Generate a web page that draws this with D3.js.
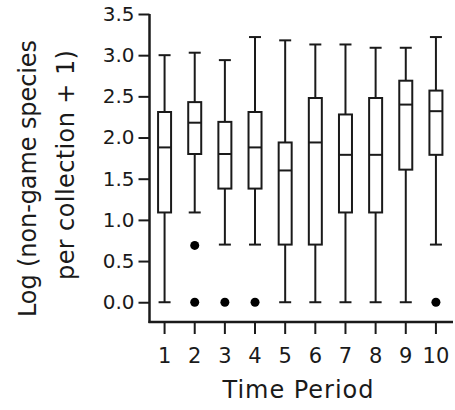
<!DOCTYPE html>
<html>
<head>
<meta charset="utf-8">
<script src="https://cdn.jsdelivr.net/npm/d3@7"></script>
<style>
  html, body { margin: 0; padding: 0; background: #fff; }
  svg { display: block; }
  text { font-family: "DejaVu Sans", Verdana, sans-serif; fill: #1a1a1a; }
</style>
</head>
<body>
<svg id="chart" width="455" height="410"></svg>
<script>
// ---- data ----
const periods     = ["1","2","3","4","5","6","7","8","9","10"];
const whiskerHigh = [3.00, 3.03, 2.94, 3.22, 3.18, 3.13, 3.13, 3.09, 3.09, 3.22];
const q3          = [2.31, 2.43, 2.19, 2.31, 1.94, 2.48, 2.28, 2.48, 2.69, 2.57];
const medians     = [1.88, 2.18, 1.80, 1.88, 1.60, 1.94, 1.79, 1.79, 2.40, 2.32];
const q1          = [1.09, 1.80, 1.38, 1.38, 0.70, 0.70, 1.09, 1.09, 1.61, 1.79];
const whiskerLow  = [0.00, 1.09, 0.70, 0.70, 0.00, 0.00, 0.00, 0.00, 0.00, 0.70];
const outlierPeriods = ["2", "2", "3", "4", "10"];
const outlierValues  = [0.69, 0.00, 0.00, 0.00, 0.00];
const yTicks = [0, 0.5, 1.0, 1.5, 2.0, 2.5, 3.0, 3.5];

const boxes = periods.map((p, i) => ({
  period: p, hi: whiskerHigh[i], q3: q3[i], med: medians[i], q1: q1[i], lo: whiskerLow[i]
}));
const outliers = outlierPeriods.map((p, i) => ({ period: p, value: outlierValues[i] }));

const svg = d3.select("#chart");
const mLeft = 149.5, mRight = 451, mTop = 14, mBottom = 322;
const ink = "#1a1a1a";

const x = d3.scaleBand().domain(periods).range([mLeft, mRight]).padding(0);
const y = d3.scaleLinear().domain([-0.24, 3.5]).range([mBottom, mTop]);
const cx = d => x(d) + x.bandwidth() / 2;
const boxW = 13, capW = 12;

// axes
const yAxis = svg.append("g").attr("transform", `translate(${mLeft},0)`)
  .call(d3.axisLeft(y).tickValues(yTicks).tickFormat(d3.format(".1f")).tickSize(11).tickPadding(4));
yAxis.select(".domain").remove();
yAxis.selectAll(".tick line").attr("stroke", ink).attr("stroke-width", 2);
yAxis.selectAll(".tick text").attr("font-size", 20).attr("fill", ink)
  .style("font-family", "'DejaVu Sans', Verdana, sans-serif");

const xAxis = svg.append("g").attr("transform", `translate(0,${mBottom})`)
  .call(d3.axisBottom(x).tickSize(12).tickPadding(14));
xAxis.select(".domain").remove();
xAxis.selectAll(".tick line").attr("stroke", ink).attr("stroke-width", 2);
xAxis.selectAll(".tick text").attr("font-size", 21).attr("fill", ink)
  .style("font-family", "'DejaVu Sans', Verdana, sans-serif");

// axis lines
svg.append("line").attr("x1", mLeft).attr("x2", mLeft).attr("y1", y(3.5)).attr("y2", mBottom + 1)
  .attr("stroke", ink).attr("stroke-width", 2.5);
svg.append("line").attr("x1", mLeft - 1).attr("x2", mRight + 2).attr("y1", mBottom).attr("y2", mBottom)
  .attr("stroke", ink).attr("stroke-width", 2.5);

// boxes
const g = svg.append("g").attr("stroke", ink).attr("stroke-width", 2).attr("fill", "none");
const b = g.selectAll("g.box").data(boxes).join("g").attr("class", "box");
b.append("line").attr("x1", d => cx(d.period)).attr("x2", d => cx(d.period))
  .attr("y1", d => y(d.hi)).attr("y2", d => y(d.q3));
b.append("line").attr("x1", d => cx(d.period)).attr("x2", d => cx(d.period))
  .attr("y1", d => y(d.q1)).attr("y2", d => y(d.lo));
b.append("line").attr("x1", d => cx(d.period) - capW / 2).attr("x2", d => cx(d.period) + capW / 2)
  .attr("y1", d => y(d.hi)).attr("y2", d => y(d.hi));
b.append("line").attr("x1", d => cx(d.period) - capW / 2).attr("x2", d => cx(d.period) + capW / 2)
  .attr("y1", d => y(d.lo)).attr("y2", d => y(d.lo));
b.append("rect").attr("x", d => cx(d.period) - boxW / 2).attr("width", boxW)
  .attr("y", d => y(d.q3)).attr("height", d => y(d.q1) - y(d.q3)).attr("fill", "#fff");
b.append("line").attr("x1", d => cx(d.period) - boxW / 2).attr("x2", d => cx(d.period) + boxW / 2)
  .attr("y1", d => y(d.med)).attr("y2", d => y(d.med));

// outliers
svg.append("g").selectAll("circle").data(outliers).join("circle")
  .attr("cx", d => cx(d.period)).attr("cy", d => y(d.value)).attr("r", 4.5).attr("fill", "#000");

// titles
svg.append("text").attr("x", 298).attr("y", 398).attr("text-anchor", "middle")
  .attr("font-size", 24).attr("textLength", 151).attr("lengthAdjust", "spacing").text("Time Period");
svg.append("text").attr("transform", "translate(36,178.5) rotate(-90)").attr("text-anchor", "middle")
  .attr("font-size", 24).attr("textLength", 277).attr("lengthAdjust", "spacing").text("Log (non-game species");
svg.append("text").attr("transform", "translate(74,165) rotate(-90)").attr("text-anchor", "middle")
  .attr("font-size", 24).attr("textLength", 230).attr("lengthAdjust", "spacing").text("per collection + 1)");
</script>
</body>
</html>
